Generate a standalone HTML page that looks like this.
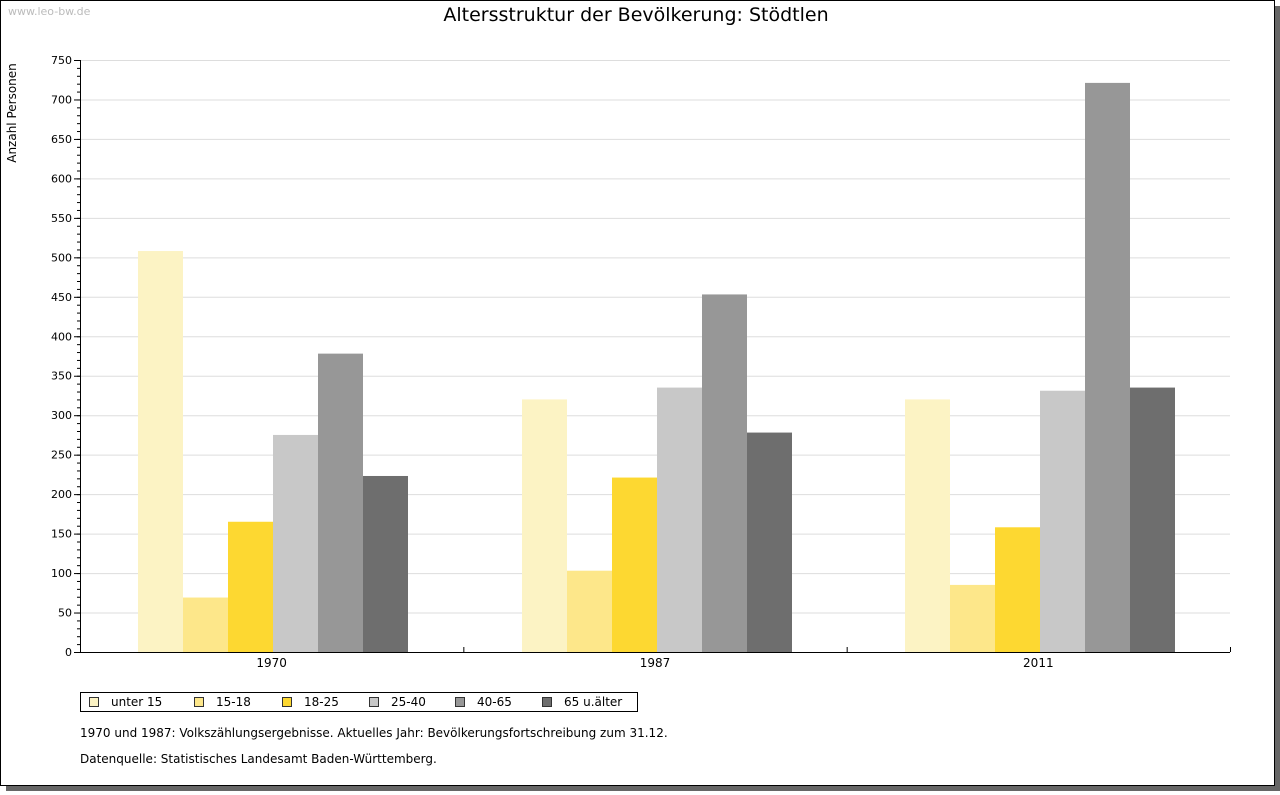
<!DOCTYPE html>
<html><head><meta charset="utf-8"><style>
body{margin:0;background:#fff;font-family:"DejaVu Sans","Liberation Sans",sans-serif;}
svg text{font-family:"DejaVu Sans","Liberation Sans",sans-serif;}
</style></head><body>
<svg id="c" width="1280" height="791" xmlns="http://www.w3.org/2000/svg">
<rect x="6" y="6" width="1274" height="785" fill="#666"/>
<rect x="0.5" y="0.5" width="1274" height="785" fill="#fff" stroke="#000"/>
<text x="8" y="15" font-size="11" fill="#bbb">www.leo-bw.de</text>
<text x="636" y="21" font-size="19" text-anchor="middle">Altersstruktur der Bevölkerung: Stödtlen</text>
<text transform="translate(16,113) rotate(-90)" font-size="12" text-anchor="middle">Anzahl Personen</text>
<g id="grid"></g><g id="bars"></g><g id="axes"></g>
<rect x="80.5" y="692.5" width="557" height="19" fill="#fff" stroke="#000"/>
<g id="legend"></g>
<text x="80" y="737" font-size="12">1970 und 1987: Volkszählungsergebnisse. Aktuelles Jahr: Bevölkerungsfortschreibung zum 31.12.</text>
<text x="80" y="763" font-size="12">Datenquelle: Statistisches Landesamt Baden-Württemberg.</text>
</svg>
<script>
const categories=["1970","1987","2011"];
const seriesNames=["unter 15","15-18","18-25","25-40","40-65","65 u.älter"];
const s0=[508,320,320];
const s1=[69,103,85];
const s2=[165,221,158];
const s3=[275,335,331];
const s4=[378,453,721];
const s5=[223,278,335];
const yTicks=[0,50,100,150,200,250,300,350,400,450,500,550,600,650,700,750];
const series=[s0,s1,s2,s3,s4,s5];
const colors=["#fcf3c4","#fde78a","#fdd831","#c8c8c8","#979797","#6e6e6e"];
const NS="http://www.w3.org/2000/svg";
const L=80,R=1230,T=60,B=652,YMAX=750;
const y=v=>B-(v/YMAX)*(B-T);
const gw=(R-L)/categories.length, bw=45;
const x=(ci,si)=>Math.round(L+gw*ci+gw/2-bw*series.length/2+si*bw+1.5);
function mk(t,a,p){const e=document.createElementNS(NS,t);for(const k in a)e.setAttribute(k,a[k]);p.appendChild(e);return e;}
const grid=document.getElementById('grid'),bars=document.getElementById('bars'),axes=document.getElementById('axes'),leg=document.getElementById('legend');
yTicks.forEach(v=>{
 if(v>0){const g=mk('line',{x1:L,x2:R,y1:y(v)+.5,y2:y(v)+.5,stroke:'#ddd'},grid);
 
 }
 const t=mk('text',{x:L-8,y:y(v)+4,'font-size':11,'text-anchor':'end'},axes);t.textContent=v;
 
 
 mk('line',{x1:L-6,x2:L,y1:y(v)+.5,y2:y(v)+.5,stroke:'#000'},axes);
});
for(let v=0;v<=YMAX;v+=10){mk('line',{x1:L-3,x2:L,y1:y(v)+.5,y2:y(v)+.5,stroke:'#000'},axes);}
series.forEach((s,si)=>s.forEach((v,ci)=>{
 const r=mk('rect',{x:x(ci,si),y:y(v),width:bw,height:B-y(v),fill:colors[si]},bars);
 
 
}));
mk('line',{x1:L+.5,x2:L+.5,y1:T,y2:B,stroke:'#000'},axes);
mk('line',{x1:L,x2:R,y1:B+.5,y2:B+.5,stroke:'#000'},axes);
for(let i=0;i<=categories.length;i++){mk('line',{x1:L+gw*i+.5,x2:L+gw*i+.5,y1:B-5,y2:B,stroke:'#000'},axes);}
categories.forEach((c,ci)=>{const t=mk('text',{x:L+gw*ci+gw/2,y:B+15,'font-size':12,'text-anchor':'middle'},axes);t.textContent=c;
 
 });
const lx=[89,194,282,369,455,542];
seriesNames.forEach((n,i)=>{
 const r=mk('rect',{x:lx[i]+.5,y:697.5,width:9,height:9,fill:colors[i],stroke:'#333'},leg);
 
 
 const t=mk('text',{x:lx[i]+22,y:706,'font-size':12},leg);t.textContent=n;
 
 
});
</script>
</body></html>
